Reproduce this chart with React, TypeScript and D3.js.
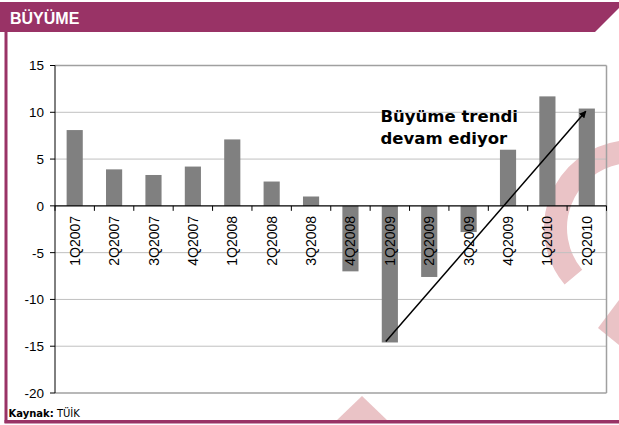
import React from "react";
import * as d3 from "d3";

const categories = [
  "1Q2007", "2Q2007", "3Q2007", "4Q2007",
  "1Q2008", "2Q2008", "3Q2008", "4Q2008",
  "1Q2009", "2Q2009", "3Q2009", "4Q2009",
  "1Q2010", "2Q2010",
];
const growth = [8.1, 3.9, 3.3, 4.2, 7.1, 2.6, 1.0, -7.0, -14.6, -7.6, -2.8, 6.0, 11.7, 10.4];
const yTicks = [15, 10, 5, 0, -5, -10, -15, -20];
const title = "BÜYÜME";
const noteLines = ["Büyüme trendi", "devam ediyor"];
const arrowFrom = { cat: "1Q2009", value: -14.5 };
const arrowTo = { cat: "2Q2010", value: 10.1 };

const W = 619;
const H = 425;
const M = { left: 55, right: 606.5, top: 65.5, bottom: 393 };
const PURPLE = "#993366";
const PINK = "#eac3c6";

export default function App() {
  const slot = d3.scaleBand<string>().domain(categories).range([M.left, M.right]).padding(0);
  const x = d3
    .scaleBand<string>()
    .domain(categories)
    .range([M.left, M.right])
    .paddingInner(0.59)
    .paddingOuter(0.295);
  const y = d3.scaleLinear().domain([-20, 15]).range([M.bottom, M.top]);
  const y0 = y(0);

  const ring = d3.arc()({
    innerRadius: 65,
    outerRadius: 88,
    startAngle: (-130 * Math.PI) / 180,
    endAngle: (-8 * Math.PI) / 180,
  } as any) as string;

  const boundaries = categories.map((c) => slot(c)!).concat([M.right]);

  const ax1 = slot(arrowFrom.cat)! + slot.bandwidth() / 2 - 4;
  const ay1 = y(arrowFrom.value);
  const ax2 = slot(arrowTo.cat)! + slot.bandwidth() / 2 - 1;
  const ay2 = y(arrowTo.value);

  return (
    <svg
      width={W}
      height={H}
      style={{ position: "absolute", left: 0, top: 0, background: "#fff" }}
      fontFamily="'Liberation Sans', Arial, sans-serif"
    >
      <defs>
        <marker id="ah" viewBox="0 0 10 10" refX="9" refY="5" markerWidth="7" markerHeight="7" orient="auto" markerUnits="userSpaceOnUse">
          <path d="M0,0 L10,5 L0,10 Z" fill="#000" />
        </marker>
      </defs>

      {/* watermark */}
      <path d={ring} transform="translate(632,228)" fill={PINK} />
      <polygon points="598,328 619,300 619,345" fill={PINK} />
      <polygon points="362,396 336,421 388,421" fill={PINK} />

      {/* frame */}
      <polygon points="0,2 619,2 619,8 595,32 0,32" fill={PURPLE} />
      <rect x={4.5} y={32} width={3} height={391} fill={PURPLE} />
      <rect x={4.5} y={420} width={614.5} height={3.5} fill={PURPLE} />
      <text x={10} y={23.5} fill="#fff" fontWeight="bold" fontSize={16}>
        {title}
      </text>

      {/* gridlines */}
      {yTicks
        .filter((t) => t !== 0 && t !== 15 && t !== -20)
        .map((t) => (
          <line key={t} x1={M.left} x2={M.right} y1={y(t)} y2={y(t)} stroke="#c0c0c0" strokeWidth={1} />
        ))}
      <line x1={M.left} x2={M.right} y1={y(15)} y2={y(15)} stroke="#a0a0a0" strokeWidth={1.5} />
      <line x1={M.left} x2={M.right} y1={y(-20)} y2={y(-20)} stroke="#a0a0a0" strokeWidth={1.5} />
      <line x1={M.right} x2={M.right} y1={M.top} y2={M.bottom} stroke="#a0a0a0" strokeWidth={1.5} />

      {/* bars */}
      {categories.map((c, i) => {
        const v = growth[i];
        return (
          <rect
            key={c}
            x={x(c)}
            width={x.bandwidth()}
            y={Math.min(y(v), y0)}
            height={Math.abs(y(v) - y0)}
            fill="#808080"
          />
        );
      })}

      {/* y axis */}
      <line x1={M.left} x2={M.left} y1={M.top} y2={M.bottom} stroke="#000" strokeWidth={1} />
      {yTicks.map((t) => (
        <g key={t}>
          <line x1={M.left - 5} x2={M.left} y1={y(t)} y2={y(t)} stroke="#000" strokeWidth={1} />
          <text x={M.left - 11} y={y(t)} dy="0.36em" textAnchor="end" fontSize={13.5} fill="#000">
            {t}
          </text>
        </g>
      ))}

      {/* zero axis */}
      <line x1={M.left} x2={M.right} y1={y0} y2={y0} stroke="#000" strokeWidth={1.2} />
      {boundaries.map((b, i) => (
        <line key={i} x1={b} x2={b} y1={y0} y2={y0 + 5} stroke="#000" strokeWidth={1} />
      ))}
      {categories.map((c) => (
        <text
          key={c}
          transform={`translate(${slot(c)! + slot.bandwidth() / 2},${y0 + 10}) rotate(-90)`}
          dy="0.36em"
          textAnchor="end"
          fontSize={14}
          fill="#000"
        >
          {c}
        </text>
      ))}

      {/* annotation */}
      <line x1={ax1} y1={ay1} x2={ax2} y2={ay2} stroke="#000" strokeWidth={1.5} markerEnd="url(#ah)" />
      {noteLines.map((l, i) => (
        <text
          key={i}
          x={380.5}
          y={121.5 + i * 22}
          fontFamily="'DejaVu Sans', Verdana, sans-serif"
          fontWeight="bold"
          fontSize={16.5}
          fill="#000"
        >
          {l}
        </text>
      ))}

      {/* source */}
      <text x={8.5} y={416.5} fontFamily="'DejaVu Sans', Verdana, sans-serif" fontSize={10} fill="#000">
        <tspan fontWeight="bold">Kaynak:</tspan>
        <tspan> TÜİK</tspan>
      </text>
    </svg>
  );
}
